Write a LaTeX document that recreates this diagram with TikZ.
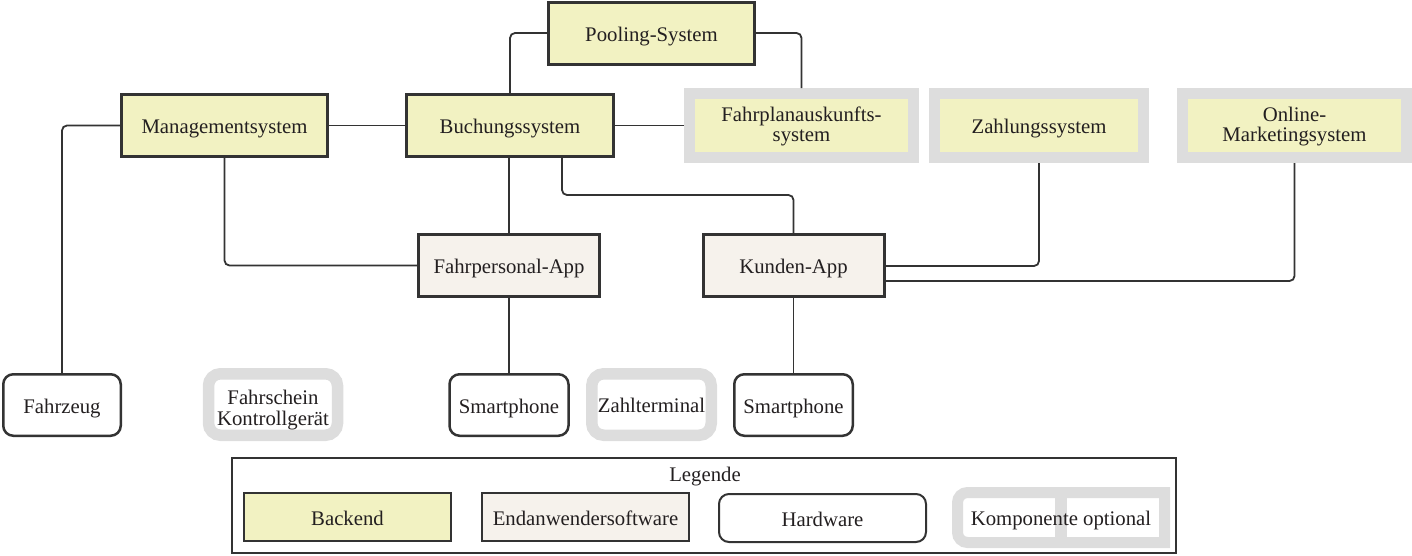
\documentclass[tikz,border=0pt]{standalone}
\usepackage{fontspec}
\setmainfont{Liberation Serif}
\definecolor{backend}{HTML}{F2F2C2}
\definecolor{enduser}{HTML}{F6F2EC}
\definecolor{optgray}{HTML}{DDDDDD}
\definecolor{linec}{HTML}{333333}
\definecolor{txt}{HTML}{231F20}
\tikzset{
  base/.style={font=\fontsize{20.75pt}{20pt}\selectfont, align=center, inner sep=0pt, text=txt, text height=16pt, text depth=0pt},
  twoline/.style={text height=34.2pt, text depth=1.8pt},
  backendbox/.style={base, draw=linec, line width=3pt, fill=backend, minimum width=206pt, minimum height=62pt},
  appbox/.style={base, draw=linec, line width=3pt, fill=enduser, minimum width=181pt, minimum height=62pt},
  optbackend/.style={base, draw=optgray, line width=11pt, fill=backend, minimum height=64pt},
  hwbox/.style={base, draw=linec, line width=2.5pt, rounded corners=10pt, fill=white, minimum width=119pt, minimum height=61.5pt},
  opthw/.style={base, draw=optgray, line width=11.5pt, rounded corners=12pt, fill=white, minimum height=61.5pt},
  legbox/.style={base, draw=linec, line width=2pt, minimum width=207pt, minimum height=48pt},
  conn/.style={draw=linec, line width=1.8pt, rounded corners=5pt},
}
\begin{document}
\begin{tikzpicture}[x=1pt,y=-1pt]
\useasboundingbox (0,0) rectangle (1412,555);
% backend
\node[backendbox] (pool) at (651.5,33) {Pooling-System};
\node[backendbox] (mgmt) at (224.5,125.5) {Managementsystem};
\node[backendbox, minimum width=207pt] (book) at (510,125.5) {Buchungssystem};
\node[optbackend, twoline, minimum width=224pt] (fahrplan) at (801.5,125.5) {Fahrplanauskunfts-\\system};
\node[optbackend, minimum width=209pt] (zahl) at (1039,125.5) {Zahlungssystem};
\node[optbackend, twoline, minimum width=224pt] (online) at (1294.5,125.5) {Online-\\Marketingsystem};
% apps
\node[appbox] (fpapp) at (509,265.5) {Fahrpersonal-App};
\node[appbox] (kapp) at (793.5,265.5) {Kunden-App};
% hardware
\node[hwbox, minimum width=117.5pt] (fzg) at (62,405) {Fahrzeug};
\node[opthw, minimum width=129pt, font=\fontsize{20.75pt}{21pt}\selectfont, text height=41pt, text depth=0pt] (fsk) at (273,404.5) {Fahrschein\\Kontrollgerät};
\node[hwbox] (sp1) at (509,405) {Smartphone};
\node[opthw, minimum width=119.5pt] (zt) at (651.5,404.5) {Zahlterminal};
\node[hwbox, minimum width=118.5pt] (sp2) at (793.5,405) {Smartphone};
% connectors
\draw[conn] (pool.west) -| (book.north);
\draw[conn] (pool.east) -| (fahrplan.north);
\draw[conn] (mgmt.east) -- (book.west);
\draw[conn] (book.east) -- (fahrplan.west);
\draw[conn] (mgmt.west) -| (fzg.north);
\draw[conn] (mgmt.south) |- (fpapp.west);
\draw[conn] (fpapp.north) -- (fpapp.north |- book.south);
\draw[conn] ([xshift=52pt]book.south) -- ++(0,37) -| (kapp.north);
\draw[conn] ([yshift=-0.5pt]kapp.east) -| (zahl.south);
\draw[conn] ([yshift=-15.5pt]kapp.east) -| (online.south);
\draw[conn] (fpapp.south) -- (sp1.north);
\draw[conn] (kapp.south) -- (sp2.north);
% legend
\node[base, draw=linec, line width=2pt, minimum width=944pt, minimum height=95pt] (legend) at (704,505.5) {};
\node[base] (legtitle) at (705,473) {Legende};
\node[legbox, fill=backend] (lback) at (347.5,517) {Backend};
\node[legbox, fill=enduser] (lend) at (585.5,517) {Endanwendersoftware};
\node[legbox, rounded corners=10pt, fill=white] (lhw) at (822.5,518) {Hardware};
\draw[draw=optgray, line width=11pt, fill=white, rounded corners=10pt]
  (1061,492.5) -- (957.5,492.5) -- (957.5,542.5) -- (1061,542.5) [sharp corners] -- (1164.5,542.5) -- (1164.5,492.5) -- cycle;
\draw[draw=optgray, line width=12pt] (1061,492.5) -- (1061,542.5);
\node[base] (lopt) at (1061,517) {Komponente optional};
\end{tikzpicture}
\end{document}
